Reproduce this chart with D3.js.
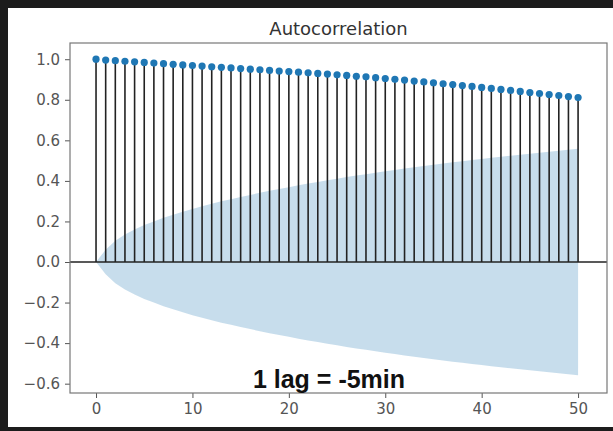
<!DOCTYPE html>
<html>
<head>
<meta charset="utf-8">
<script src="https://cdn.jsdelivr.net/npm/d3@7"></script>
<style>
  body { margin: 0; background: #1c1c1c; }
  svg { display: block; }
  .tick-label { font-family: 'DejaVu Sans', sans-serif; font-size: 15px; fill: #555; }
  .graph-title { font-family: 'DejaVu Sans', sans-serif; font-size: 18px; fill: #333; }
  .note { font-family: 'Liberation Sans', Arial, sans-serif; font-size: 25px; font-weight: bold; fill: #111; }
</style>
</head>
<body>
<svg id="acf-svg"></svg>
<script>
const lags = d3.range(0, 51);

const acfValues = [
  1.000, 0.996, 0.993, 0.990, 0.987, 0.984, 0.981, 0.978, 0.975, 0.972,
  0.969, 0.966, 0.963, 0.960, 0.957, 0.954, 0.951, 0.948, 0.945, 0.942,
  0.939, 0.936, 0.933, 0.930, 0.927, 0.923, 0.920, 0.916, 0.913, 0.909,
  0.905, 0.901, 0.897, 0.892, 0.888, 0.884, 0.879, 0.875, 0.870, 0.866,
  0.861, 0.856, 0.851, 0.846, 0.841, 0.836, 0.831, 0.826, 0.821, 0.816,
  0.811,
];

// half width of the confidence band at each lag
const confBand = [
  0.000, 0.061, 0.105, 0.136, 0.160, 0.182, 0.200, 0.218, 0.233, 0.248,
  0.262, 0.275, 0.287, 0.299, 0.310, 0.321, 0.331, 0.341, 0.351, 0.360,
  0.369, 0.378, 0.387, 0.395, 0.403, 0.411, 0.419, 0.426, 0.433, 0.440,
  0.447, 0.454, 0.461, 0.467, 0.473, 0.480, 0.486, 0.492, 0.497, 0.503,
  0.508, 0.514, 0.519, 0.524, 0.529, 0.534, 0.539, 0.544, 0.549, 0.553,
  0.558,
];

const xTicks = [0, 10, 20, 30, 40, 50];
const yTicks = [-0.6, -0.4, -0.2, 0.0, 0.2, 0.4, 0.6, 0.8, 1.0];

const titleText = 'Autocorrelation';
const noteText = '1 lag = -5min';

const width = 613;
const height = 431;
const plot = { left: 70, right: 607, top: 43, bottom: 393 };

const svg = d3.select('#acf-svg').attr('width', width).attr('height', height);

// white figure area inside the dark screenshot border
svg
  .append('rect')
  .attr('x', 8)
  .attr('y', 8)
  .attr('width', width - 8)
  .attr('height', height - 12)
  .attr('fill', '#ffffff');

const xScale = d3.scaleLinear().domain([-2.7, 53.0]).range([plot.left, plot.right]);
const yScale = d3.scaleLinear().domain([-0.646, 1.08]).range([plot.bottom, plot.top]);

// Confidence band
svg
  .append('path')
  .datum(lags)
  .attr('fill', '#1f77b4')
  .attr('fill-opacity', 0.25)
  .attr(
    'd',
    d3
      .area()
      .x((d) => xScale(d))
      .y0((d) => yScale(-confBand[d]))
      .y1((d) => yScale(confBand[d])),
  );

// zero line
svg
  .append('line')
  .attr('x1', plot.left)
  .attr('x2', plot.right)
  .attr('y1', yScale(0))
  .attr('y2', yScale(0))
  .attr('stroke', '#222')
  .attr('stroke-width', 1.3);

// stems
svg
  .append('g')
  .selectAll('line')
  .data(lags)
  .join('line')
  .attr('x1', (d) => xScale(d))
  .attr('x2', (d) => xScale(d))
  .attr('y1', yScale(0))
  .attr('y2', (d) => yScale(acfValues[d]))
  .attr('stroke', '#222')
  .attr('stroke-width', 1.6);

// markers
svg
  .append('g')
  .selectAll('circle')
  .data(lags)
  .join('circle')
  .attr('cx', (d) => xScale(d))
  .attr('cy', (d) => yScale(acfValues[d]))
  .attr('r', 3.6)
  .attr('fill', '#1f77b4');

// Axes
const xAxis = d3.axisBottom(xScale).tickValues(xTicks).tickSize(5).tickPadding(5).tickFormat(d3.format('d'));
const yAxis = d3.axisLeft(yScale).tickValues(yTicks).tickSize(5).tickPadding(5).tickFormat((d) => d3.format('.1f')(d).replace('-', '\u2212'));

const gx = svg.append('g').attr('transform', 'translate(0,' + plot.bottom + ')').call(xAxis);
const gy = svg.append('g').attr('transform', 'translate(' + plot.left + ',0)').call(yAxis);

[gx, gy].forEach((g) => {
  g.select('.domain').remove();
  g.selectAll('.tick line').attr('stroke', '#555');
  g.selectAll('.tick text').attr('class', 'tick-label').attr('font-family', null).attr('font-size', null).attr('fill', null);
});

// frame
svg
  .append('rect')
  .attr('x', plot.left)
  .attr('y', plot.top)
  .attr('width', plot.right - plot.left)
  .attr('height', plot.bottom - plot.top)
  .attr('fill', 'none')
  .attr('stroke', '#777')
  .attr('stroke-width', 1.2);

// title
svg
  .append('text')
  .attr('class', 'graph-title')
  .attr('x', (plot.left + plot.right) / 2)
  .attr('y', 35)
  .attr('text-anchor', 'middle')
  .text(titleText);

// annotation
svg
  .append('text')
  .attr('class', 'note')
  .attr('x', 329)
  .attr('y', 388)
  .attr('text-anchor', 'middle')
  .text(noteText);
</script>
</body>
</html>
